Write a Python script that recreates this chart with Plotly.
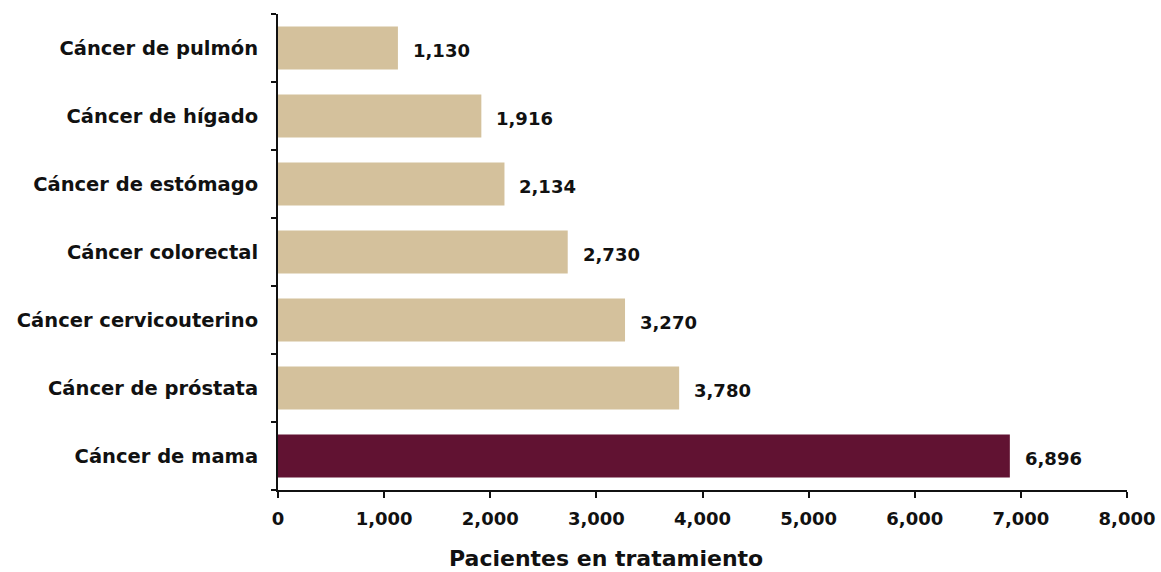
import plotly.graph_objects as go

categorias = [
    "Cáncer de mama",
    "Cáncer de próstata",
    "Cáncer cervicouterino",
    "Cáncer colorectal",
    "Cáncer de estómago",
    "Cáncer de hígado",
    "Cáncer de pulmón",
]
pacientes = [6896, 3780, 3270, 2730, 2134, 1916, 1130]
colores = ["#611232", "#D4C19C", "#D4C19C", "#D4C19C", "#D4C19C", "#D4C19C", "#D4C19C"]
x_ticks = [0, 1000, 2000, 3000, 4000, 5000, 6000, 7000, 8000]
titulo_x = "Pacientes en tratamiento"

FONT = "DejaVu Sans"
INK = "#111111"

fig = go.Figure()
fig.add_trace(go.Bar(
    y=categorias,
    x=pacientes,
    orientation="h",
    marker=dict(color=colores, line=dict(width=0)),
    width=0.63,
    hoverinfo="skip",
))

# value labels to the right of each bar
for cat, val in zip(categorias, pacientes):
    fig.add_annotation(
        x=val, y=cat, text=f"<b>{val:,}</b>",
        showarrow=False, xanchor="left", xshift=13, yshift=-2,
        font=dict(family=FONT, size=18, color=INK),
    )

# axis title, placed under the tick labels
fig.add_annotation(
    x=0.386, y=0, xref="paper", yref="paper",
    yanchor="middle", yshift=-68, showarrow=False,
    text=f"<b>{titulo_x}</b>",
    font=dict(family=FONT, size=22, color=INK),
    borderpad=0,
)

fig.update_layout(
    width=1161, height=572,
    margin=dict(l=278, r=34, t=14, b=82),
    plot_bgcolor="white", paper_bgcolor="white",
    showlegend=False,
    bargap=0.37,
    font=dict(family=FONT, color=INK),
)
fig.update_xaxes(
    range=[0, 8000],
    automargin=False,
    tickvals=x_ticks,
    ticktext=[f"<b>{v:,}</b>" for v in x_ticks],
    tickfont=dict(family=FONT, size=18, color=INK),
    showline=True, linecolor=INK, linewidth=2,
    ticks="outside", ticklen=6, tickwidth=2, tickcolor=INK,
    ticklabelstandoff=5,
    showgrid=False, zeroline=False,
)
fig.update_yaxes(
    categoryorder="array", categoryarray=categorias,
    automargin=False,
    tickvals=categorias,
    ticktext=[f"<b>{c}</b>" for c in categorias],
    tickfont=dict(family=FONT, size=19.5, color=INK),
    showline=True, linecolor=INK, linewidth=2,
    ticks="outside", ticklen=5, tickwidth=2, tickcolor=INK,
    tickson="boundaries", ticklabelstandoff=14,
    showgrid=False, zeroline=False,
)

fig.write_html("out.html")
